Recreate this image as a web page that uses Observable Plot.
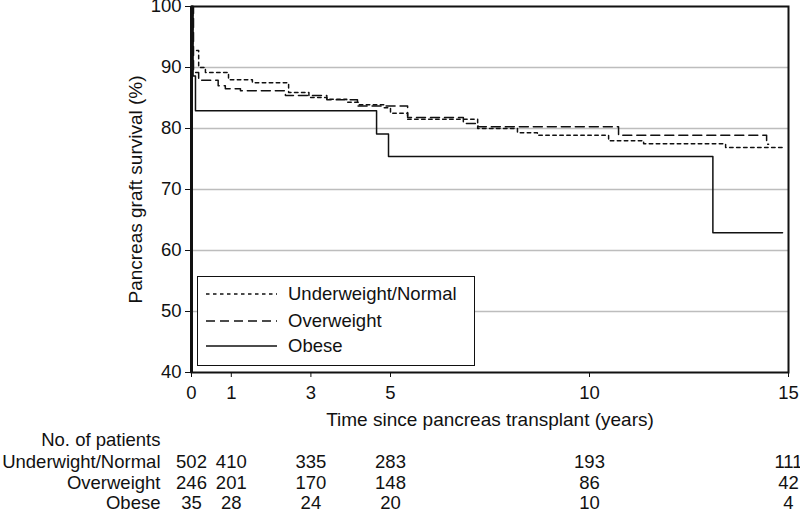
<!DOCTYPE html>
<html>
<head>
<meta charset="utf-8">
<script src="https://cdn.jsdelivr.net/npm/d3@7"></script>
<script src="https://cdn.jsdelivr.net/npm/@observablehq/plot@0.6"></script>
<style>
  html, body { margin: 0; padding: 0; background: #fff; }
  #wrap { position: relative; width: 800px; height: 511px; font-family: 'Liberation Sans', Arial, sans-serif; }
  #legend { position: absolute; left: 197px; top: 276px; width: 276px; height: 88px; border: 1.5px solid #111; background: #fff; }
  #legend svg { position: absolute; left: 0; top: 0; }
</style>
</head>
<body>
<div id="wrap"></div>
<script>
// ---- data ----
const seriesNames = ["Underweight/Normal", "Overweight", "Obese"];

const underTimes = [0, 0.03, 0.18, 0.35, 0.93, 1.53, 2.44, 2.95, 3.4, 3.9, 4.2, 4.83, 5.0, 5.43, 7.19, 8.19, 8.69, 10.48, 11.36, 13.42, 14.85];
const underSurv  = [100, 92.8, 90.0, 89.2, 88.0, 87.5, 85.9, 85.1, 84.8, 84.3, 83.9, 83.4, 82.5, 81.5, 80.0, 79.3, 78.9, 78.0, 77.5, 76.9, 76.9];

const overTimes = [0, 0.05, 0.18, 0.67, 0.85, 1.23, 2.36, 3.4, 4.17, 5.43, 6.83, 7.2, 10.73, 14.45, 14.5];
const overSurv  = [100, 89.2, 87.9, 87.0, 86.5, 86.2, 85.4, 84.7, 83.7, 81.8, 80.8, 80.3, 78.9, 77.4, 77.4];

const obeseTimes = [0, 0.04, 0.1, 4.65, 4.95, 13.1, 14.85];
const obeseSurv  = [100, 88.6, 82.9, 79.1, 75.4, 62.9, 62.9];

const xTicks = [0, 1, 3, 5, 10, 15];
const yTicks = [40, 50, 60, 70, 80, 90, 100];
const gridVals = [50, 60, 70, 80, 90];

const riskTitle = "No. of patients";
const riskLabels = ["Underwight/Normal", "Overweight", "Obese"];
const riskUnder = [502, 410, 335, 283, 193, 111];
const riskOver  = [246, 201, 170, 148, 86, 42];
const riskObese = [35, 28, 24, 20, 10, 4];

const xLabel = "Time since pancreas transplant (years)";
const yLabel = "Pancreas graft survival (%)";

// ---- build ----
const toRows = (ts, ss) => ts.map((t, i) => ({t, s: ss[i]}));
const underRows = toRows(underTimes, underSurv);
const overRows = toRows(overTimes, overSurv);
const obeseRows = toRows(obeseTimes, obeseSurv);

const ink = "#111";
const dotted = "3.5,3.5";
const dashed = "9,5";
const fs = 18.5;

const riskRows = [riskUnder, riskOver, riskObese];
const rowDy = [90, 111, 131];

const marks = [
  Plot.gridY(gridVals, {stroke: "#bdbdbd", strokeOpacity: 1, strokeWidth: 1.5}),
  Plot.line(underRows, {x: "t", y: "s", curve: "step-after", stroke: ink, strokeWidth: 1.5, strokeDasharray: dotted}),
  Plot.line(overRows, {x: "t", y: "s", curve: "step-after", stroke: ink, strokeWidth: 1.5, strokeDasharray: dashed}),
  Plot.line(obeseRows, {x: "t", y: "s", curve: "step-after", stroke: ink, strokeWidth: 1.5}),
  Plot.frame({stroke: ink, strokeWidth: 2}),
  Plot.ruleX([0], {stroke: ink, strokeWidth: 3}),
  Plot.axisY({ticks: yTicks, tickSize: 6, tickPadding: 4, label: null, stroke: ink, fontSize: fs}),
  Plot.axisX({ticks: xTicks, tickSize: 5, tickPadding: 8, label: null, stroke: ink, fontSize: fs}),
  Plot.text([yLabel], {frameAnchor: "left", rotate: -90, dx: -56, textAnchor: "middle", lineAnchor: "middle", text: d => d, fill: ink, fontSize: 19}),
  Plot.text([xLabel], {frameAnchor: "bottom", dy: 47, textAnchor: "middle", lineAnchor: "middle", text: d => d, fill: ink, fontSize: 19}),
  Plot.text([riskTitle], {frameAnchor: "bottom-left", dx: -31, dy: 68, textAnchor: "end", lineAnchor: "middle", text: d => d, fill: ink, fontSize: fs})
];
riskRows.forEach((row, r) => {
  marks.push(Plot.text([riskLabels[r]], {frameAnchor: "bottom-left", dx: -31, dy: rowDy[r], textAnchor: "end", lineAnchor: "middle", text: d => d, fill: ink, fontSize: fs}));
  marks.push(Plot.text(xTicks, {x: d => d, frameAnchor: "bottom", dy: rowDy[r], lineAnchor: "middle", text: (d, i) => String(row[i]), fill: ink, fontSize: fs}));
});

const chart = Plot.plot({
  width: 800,
  height: 511,
  marginTop: 6,
  marginRight: 12,
  marginBottom: 139,
  marginLeft: 191,
  style: {fontFamily: "'Liberation Sans', Arial, sans-serif", fontSize: fs + "px", color: ink, background: "#fff", overflow: "visible"},
  x: {domain: [0, 15]},
  y: {domain: [40, 100]},
  marks
});

const wrap = document.getElementById("wrap");
wrap.appendChild(chart);

// legend
const legend = document.createElement("div");
legend.id = "legend";
const ns = "http://www.w3.org/2000/svg";
const svg = document.createElementNS(ns, "svg");
svg.setAttribute("width", 276);
svg.setAttribute("height", 88);
const styles = [dotted, dashed, null];
const rowsY = [17, 44, 69];
seriesNames.forEach((name, i) => {
  const ln = document.createElementNS(ns, "line");
  ln.setAttribute("x1", 8); ln.setAttribute("x2", 79);
  ln.setAttribute("y1", rowsY[i]); ln.setAttribute("y2", rowsY[i]);
  ln.setAttribute("stroke", ink); ln.setAttribute("stroke-width", 1.5);
  if (styles[i]) ln.setAttribute("stroke-dasharray", styles[i]);
  svg.appendChild(ln);
  const tx = document.createElementNS(ns, "text");
  tx.setAttribute("x", 90); tx.setAttribute("y", rowsY[i]);
  tx.setAttribute("dy", "0.35em");
  tx.setAttribute("font-size", fs + "px");
  tx.setAttribute("font-family", "'Liberation Sans', Arial, sans-serif");
  tx.setAttribute("fill", ink);
  tx.textContent = name;
  svg.appendChild(tx);
});
legend.appendChild(svg);
wrap.appendChild(legend);
</script>
</body>
</html>
